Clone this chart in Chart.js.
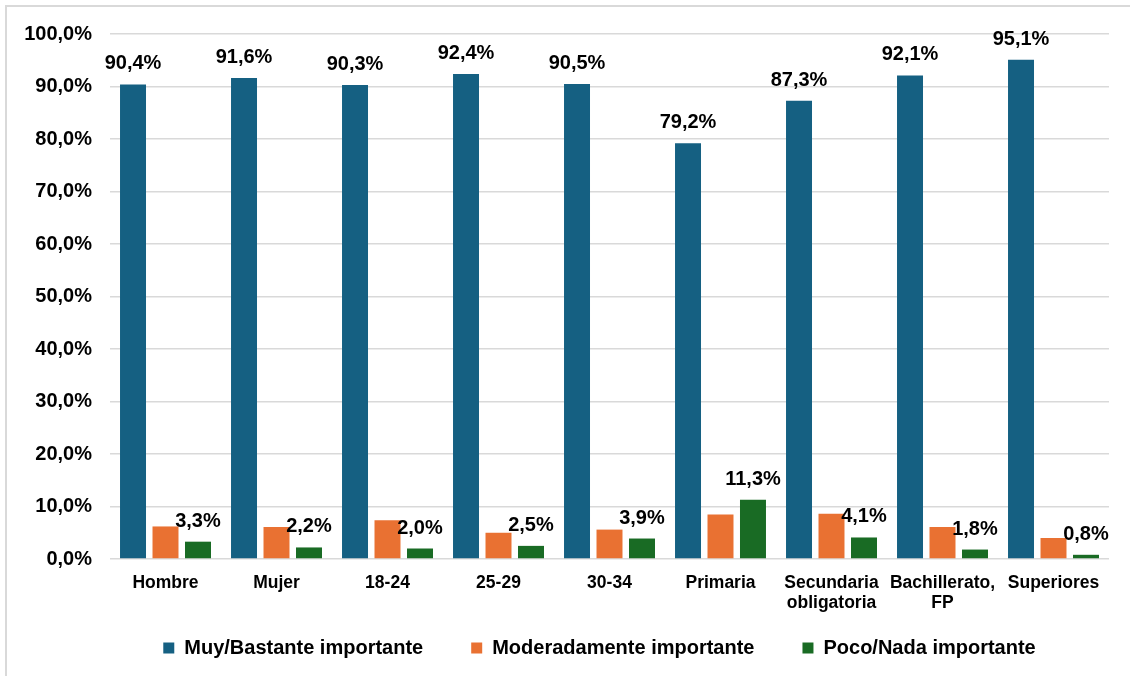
<!DOCTYPE html>
<html>
<head>
<meta charset="utf-8">
<script src="https://cdn.jsdelivr.net/npm/chart.js@4"></script>
<style>
  html, body { margin: 0; padding: 0; background: #fff; }
  #wrap { position: relative; width: 1130px; height: 676px; }
  #frame { position: absolute; left: 5px; top: 5px; right: -10px; bottom: -10px;
           border-left: 2px solid #d9d9d9; border-top: 2px solid #d9d9d9; }
  canvas { position: absolute; left: 0; top: 0; }
</style>
</head>
<body>
<div id="wrap">
  <div id="frame"></div>
  <canvas id="chart" width="1130" height="676"></canvas>
</div>
<script>
const categories = ['Hombre', 'Mujer', '18-24', '25-29', '30-34', 'Primaria',
    ['Secundaria', 'obligatoria'], ['Bachillerato,', 'FP'], 'Superiores']
const seriesNames = ['Muy/Bastante importante', 'Moderadamente importante', 'Poco/Nada importante']
const muyBastante = [90.4, 91.6, 90.3, 92.4, 90.5, 79.2, 87.3, 92.1, 95.1]
const moderadamente = [6.2, 6.1, 7.4, 5.0, 5.6, 8.5, 8.6, 6.1, 4.0]
const pocoNada = [3.3, 2.2, 2.0, 2.5, 3.9, 11.3, 4.1, 1.8, 0.8]
const colors = ['#156082', '#E97132', '#196B24']
const labelled = [true, false, true]

const FONT = '"Liberation Sans", Arial, sans-serif'
const fmt = v => v.toFixed(1).replace('.', ',') + '%'

// draws the value labels above the blue and green bars
const valueLabels = {
    id: 'valueLabels',
    afterDatasetsDraw(chart) {
        const ctx = chart.ctx
        ctx.save()
        ctx.font = 'bold 20px ' + FONT
        ctx.fillStyle = '#000'
        ctx.textAlign = 'center'
        ctx.textBaseline = 'alphabetic'
        chart.data.datasets.forEach((ds, i) => {
            if (!labelled[i]) return
            chart.getDatasetMeta(i).data.forEach((bar, j) => {
                ctx.fillText(fmt(ds.data[j]), bar.x, bar.y - 15)
            })
        })
        ctx.restore()
    }
}

// let the axis labels spill out of their boxes (chart.js clips them otherwise)
const looseScales = {
    id: 'looseScales',
    afterLayout(chart) {
        chart.scales.x.bottom = chart.height
        chart.scales.y.left = 0
    }
}

const config = {
    type: 'bar',
    data: {
        labels: categories,
        datasets: [muyBastante, moderadamente, pocoNada].map((d, i) => ({
            label: seriesNames[i],
            data: d,
            backgroundColor: colors[i],
            categoryPercentage: 0.878,
            barPercentage: 0.8
        }))
    },
    options: {
        responsive: false,
        animation: false,
        layout: { padding: { left: 90, top: 34, right: 21, bottom: 8 } },
        plugins: {
            tooltip: { enabled: false },
            legend: {
                position: 'bottom',
                labels: {
                    color: '#000',
                    boxWidth: 11,
                    boxHeight: 11,
                    padding: 48,
                    font: { family: FONT, size: 20, weight: 'bold' }
                }
            }
        },
        scales: {
            x: {
                grid: { display: false },
                border: { display: false },
                ticks: {
                    color: '#000',
                    padding: 6,
                    maxRotation: 0,
                    autoSkip: false,
                    font: { family: FONT, size: 17.5, weight: 'bold', lineHeight: 1.15 }
                },
                afterFit: s => { s.height = 31 }
            },
            y: {
                min: 0,
                max: 100,
                border: { display: false },
                grid: { color: '#d9d9d9', lineWidth: 1.5, drawTicks: false },
                ticks: {
                    stepSize: 10,
                    color: '#000',
                    padding: 18,
                    font: { family: FONT, size: 20, weight: 'bold' },
                    callback: v => fmt(v)
                },
                afterFit: s => { s.width = 20 }
            }
        }
    },
    plugins: [valueLabels, looseScales]
}

const myChart = new Chart(document.getElementById('chart'), config)
</script>
</body>
</html>
